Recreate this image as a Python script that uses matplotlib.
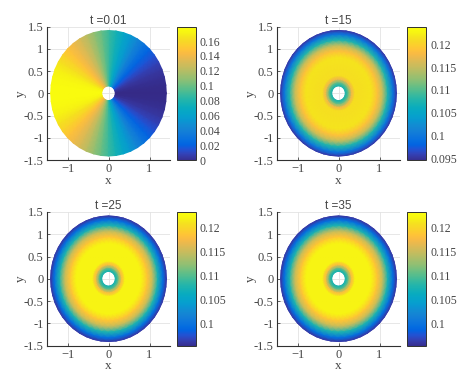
import numpy as np
import matplotlib
matplotlib.use('Agg')
import matplotlib.pyplot as plt
from matplotlib.colors import LinearSegmentedColormap

plt.rcParams['font.family'] = ['Liberation Serif', 'DejaVu Serif']

parula = LinearSegmentedColormap.from_list('parula', [
    (0.2081, 0.1663, 0.5292), (0.2123, 0.2138, 0.6270), (0.1959, 0.2645, 0.7279),
    (0.1253, 0.3242, 0.8303), (0.0117, 0.3875, 0.8820), (0.0165, 0.4266, 0.8786),
    (0.0498, 0.4586, 0.8641), (0.0723, 0.4887, 0.8467), (0.0793, 0.5200, 0.8312),
    (0.0641, 0.5570, 0.8240), (0.0343, 0.5966, 0.8199), (0.0239, 0.6287, 0.8038),
    (0.0228, 0.6535, 0.7768), (0.0384, 0.6743, 0.7436), (0.0843, 0.6928, 0.7062),
    (0.1453, 0.7098, 0.6646), (0.2178, 0.7250, 0.6193), (0.3022, 0.7376, 0.5712),
    (0.3953, 0.7459, 0.5244), (0.4871, 0.7491, 0.4840), (0.5709, 0.7485, 0.4494),
    (0.6473, 0.7456, 0.4188), (0.7184, 0.7411, 0.3905), (0.7858, 0.7356, 0.3633),
    (0.8507, 0.7299, 0.3360), (0.9139, 0.7258, 0.3063), (0.9739, 0.7314, 0.2666),
    (0.9990, 0.7653, 0.2164), (0.9880, 0.8066, 0.1794), (0.9697, 0.8481, 0.1475),
    (0.9589, 0.8949, 0.1132), (0.9661, 0.9514, 0.0755), (0.9763, 0.9831, 0.0538)])

titles = ['t =0.01', 't =15', 't =25', 't =35']

# mesh rings
radius = [0.165, 0.21, 0.26, 0.32, 0.4, 0.8, 0.95, 1.08, 1.2, 1.33, 1.41]

# t=0.01, value only changes with the angle, one reading per 7.5 degrees from +x round to -x
t001_angle = [0.0, 0.001, 0.003, 0.006, 0.011, 0.017, 0.024, 0.034, 0.045, 0.057, 0.068, 0.079, 0.09,
              0.102, 0.113, 0.124, 0.134, 0.142, 0.15, 0.159, 0.167, 0.173, 0.177, 0.179, 0.179]

# later times, value only changes with the radius
t15_radius = [0.1080, 0.1095, 0.1130, 0.1180, 0.1215, 0.1220, 0.1190, 0.1150, 0.1080, 0.1000, 0.0960]
t25_radius = [0.1080, 0.1095, 0.1135, 0.1185, 0.1225, 0.1225, 0.1190, 0.1150, 0.1080, 0.1000, 0.0965]
t35_radius = [0.1080, 0.1095, 0.1135, 0.1185, 0.1225, 0.1225, 0.1190, 0.1150, 0.1080, 0.1000, 0.0965]

limits = [(0, 0.1797), (0.0946, 0.1239), (0.0955, 0.1233), (0.0955, 0.1233)]
cb_ticks = [[0, 0.02, 0.04, 0.06, 0.08, 0.1, 0.12, 0.14, 0.16],
            [0.095, 0.1, 0.105, 0.11, 0.115, 0.12],
            [0.1, 0.105, 0.11, 0.115, 0.12],
            [0.1, 0.105, 0.11, 0.115, 0.12]]

# left, top, width, height in pixels
boxes = [(47, 26.5, 123, 133.5), (277, 26.5, 123, 133.5), (47, 212, 123, 133.5), (277, 212, 123, 133.5)]
cb_x = [176.5, 407, 176.5, 407]
W, H = 474, 375

r = np.array(radius)
a = np.radians(np.arange(len(t001_angle)) * 7.5)
# both half discs, spokes run all the way round
th = np.concatenate([a, 2 * np.pi - a[-2::-1]])
R, TH = np.meshgrid(r, th)
X = R * np.cos(TH)
Y = R * np.sin(TH)

fields = []
v = np.array(t001_angle)
fields.append(np.tile(np.concatenate([v, v[-2::-1]])[:, None], (1, len(r))))
for prof in (t15_radius, t25_radius, t35_radius):
    fields.append(np.tile(np.array(prof), (len(th), 1)))

fig = plt.figure(figsize=(W / 100, H / 100), dpi=100)
gray = '#454545'

for i in range(4):
    l, t, w, h = boxes[i]
    ax = fig.add_axes([l / W, 1 - (t + h) / H, w / W, h / H])
    m = ax.pcolormesh(X, Y, fields[i], cmap=parula, shading='gouraud',
                      vmin=limits[i][0], vmax=limits[i][1], zorder=2)
    if i > 0:
        ax.plot(X[:, -1], Y[:, -1], color=parula(0.05), lw=0.7, zorder=3)
    ax.set_xlim(-1.5, 1.5)
    ax.set_ylim(-1.5, 1.5)
    ax.set_xticks([-1, 0, 1])
    ax.set_yticks([-1.5, -1, -0.5, 0, 0.5, 1, 1.5])
    ax.set_yticklabels(['-1.5', '-1', '-0.5', '0', '0.5', '1', '1.5'])
    ax.grid(color='#e3e3e3', lw=0.6, zorder=0)
    ax.set_axisbelow(True)
    ax.spines['top'].set_visible(False)
    ax.spines['right'].set_visible(False)
    ax.spines['left'].set_color('#303030')
    ax.spines['bottom'].set_color('#303030')
    ax.tick_params(direction='in', length=2, width=0.6, labelsize=9, colors=gray, pad=2.5)
    ax.set_xlabel('x', fontsize=9.5, color=gray, labelpad=-0.5)
    ax.set_ylabel('y', fontsize=9.5, color=gray, labelpad=-2)
    ax.set_title(titles[i], fontsize=8.5, color=gray, pad=2, family='Liberation Sans')

    cax = fig.add_axes([cb_x[i] / W, 1 - (t + h) / H, 19 / W, h / H])
    cb = fig.colorbar(m, cax=cax)
    cb.set_ticks(cb_ticks[i])
    cb.set_ticklabels(['%g' % c for c in cb_ticks[i]])
    cb.ax.tick_params(length=0, labelsize=8.5, colors=gray, pad=3)
    cb.solids.set_edgecolor('face')
    cb.outline.set_edgecolor('#303030')
    cb.outline.set_linewidth(0.7)

fig.savefig('out.png', dpi=100)
